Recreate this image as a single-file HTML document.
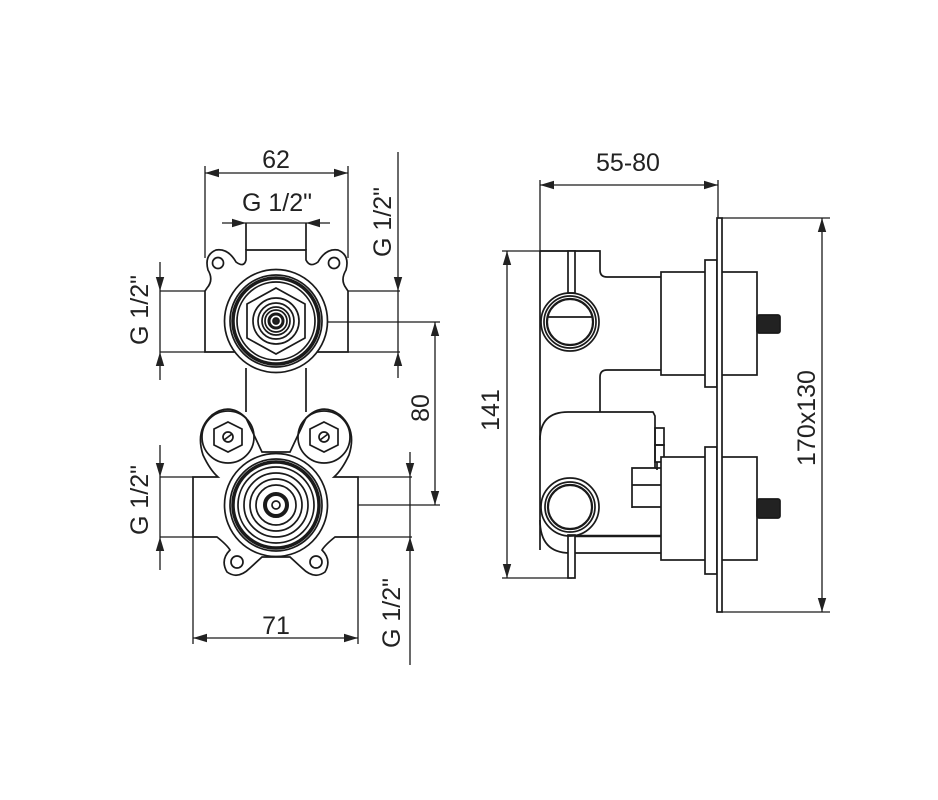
<!DOCTYPE html>
<html><head><meta charset="utf-8"><style>
html,body{margin:0;padding:0;background:#fff;}
svg{display:block;}
text{font-family:"Liberation Sans","DejaVu Sans",sans-serif;font-size:25px;fill:#222;}
</style></head><body>
<svg width="938" height="800" viewBox="0 0 938 800" xmlns="http://www.w3.org/2000/svg">
<defs>
<marker id="a" viewBox="0 0 10 10" refX="10" refY="5" markerWidth="14" markerHeight="14" markerUnits="userSpaceOnUse" orient="auto-start-reverse"><path d="M0,2 L10,5 L0,8 z" fill="#222"/></marker>
</defs>
<g fill="none" stroke="#1a1a1a" stroke-width="1.7">
<!-- ===== LEFT VIEW ===== -->
<line x1="205" y1="173" x2="348" y2="173" marker-start="url(#a)" marker-end="url(#a)" stroke-width="1.3"/>
<line x1="205" y1="166" x2="205" y2="258" stroke-width="1.3"/><line x1="348" y1="166" x2="348" y2="258" stroke-width="1.3"/>
<line x1="222" y1="223" x2="246" y2="223" marker-end="url(#a)" stroke-width="1.3"/>
<line x1="330" y1="223" x2="306" y2="223" marker-end="url(#a)" stroke-width="1.3"/>
<line x1="246" y1="223" x2="306" y2="223" stroke-width="1.3"/>
<line x1="246" y1="223" x2="246" y2="250"/><line x1="306" y1="223" x2="306" y2="250"/>
<path d="M246,250 L306,250 L306,260 Q310,268 318,262 Q326,248 338,250 Q350,255 346,270 Q340,280 346,288 L348,291 L348,352 L205,352 L205,291 L207,288 Q214,280 208,270 Q204,255 216,250 Q228,248 236,262 Q244,268 246,260 Z" fill="#fff"/>
<circle cx="218" cy="263" r="5.5"/><circle cx="334" cy="263" r="5.5"/>
<line x1="160" y1="291" x2="205" y2="291" stroke-width="1.3"/><line x1="160" y1="352" x2="205" y2="352" stroke-width="1.3"/>
<line x1="348" y1="291" x2="400" y2="291" stroke-width="1.3"/><line x1="348" y1="352" x2="400" y2="352" stroke-width="1.3"/>
<line x1="246" y1="368" x2="246" y2="412"/><line x1="306" y1="368" x2="306" y2="412"/>
<circle cx="276" cy="321" r="51.5" fill="#fff"/>
<circle cx="276" cy="321" r="46"/>
<circle cx="276" cy="321" r="43" stroke-width="3.5"/>
<circle cx="276" cy="321" r="39"/>
<polygon points="276,288 305,304 305,338 276,354 247,338 247,304"/>
<circle cx="276" cy="321" r="23"/><circle cx="276" cy="321" r="18"/>
<circle cx="276" cy="321" r="14"/><circle cx="276" cy="321" r="11"/>
<circle cx="276" cy="321" r="7" stroke-width="3"/>
<circle cx="276" cy="321" r="3" fill="#222"/>
<g stroke-width="1.3">
<line x1="160" y1="262" x2="160" y2="291" marker-end="url(#a)"/>
<line x1="160" y1="380" x2="160" y2="352" marker-end="url(#a)"/>
<line x1="160" y1="291" x2="160" y2="352"/>
<line x1="398" y1="152" x2="398" y2="291" marker-end="url(#a)"/>
<line x1="398" y1="378" x2="398" y2="352" marker-end="url(#a)"/>
<line x1="398" y1="291" x2="398" y2="352"/>
<line x1="328" y1="322" x2="440" y2="322"/><line x1="320" y1="505" x2="440" y2="505"/>
<line x1="435" y1="322" x2="435" y2="505" marker-start="url(#a)" marker-end="url(#a)"/>
</g>
<path d="M193,477 L218,477 Q210,470 203,455 Q195,430 212,415 Q230,402 246,418 L262,452 L290,452 L306,418 Q322,402 340,415 Q357,430 349,455 Q342,470 334,477 L358,477 L358,537 L335,537 Q325,545 322,550 Q332,560 325,572 Q314,580 302,568 L290,557 L262,557 L250,568 Q238,580 227,572 Q220,560 230,550 Q227,545 217,537 L193,537 Z" fill="#fff"/>
<circle cx="228" cy="437" r="26"/><circle cx="324" cy="437" r="26"/>
<polygon points="228,422 242,429 242,445 228,452 214,445 214,429"/>
<polygon points="324,422 338,429 338,445 324,452 310,445 310,429"/>
<circle cx="228" cy="437" r="5"/><line x1="224" y1="440" x2="232" y2="434"/>
<circle cx="324" cy="437" r="5"/><line x1="320" y1="440" x2="328" y2="434"/>
<circle cx="237" cy="562" r="6"/><circle cx="316" cy="562" r="6"/>
<circle cx="276" cy="505" r="51.5" fill="#fff"/>
<circle cx="276" cy="505" r="46"/>
<circle cx="276" cy="505" r="43" stroke-width="3.5"/>
<circle cx="276" cy="505" r="38"/>
<circle cx="276" cy="505" r="32"/><circle cx="276" cy="505" r="26"/>
<circle cx="276" cy="505" r="20"/>
<circle cx="276" cy="505" r="11" stroke-width="4"/>
<circle cx="276" cy="505" r="4"/>
<g stroke-width="1.3">
<line x1="160" y1="477" x2="193" y2="477"/><line x1="160" y1="537" x2="193" y2="537"/>
<line x1="358" y1="477" x2="412" y2="477"/><line x1="358" y1="537" x2="412" y2="537"/>
<line x1="160" y1="445" x2="160" y2="477" marker-end="url(#a)"/>
<line x1="160" y1="570" x2="160" y2="537" marker-end="url(#a)"/>
<line x1="160" y1="477" x2="160" y2="537"/>
<line x1="410" y1="452" x2="410" y2="477" marker-end="url(#a)"/>
<line x1="410" y1="665" x2="410" y2="537" marker-end="url(#a)"/>
<line x1="410" y1="477" x2="410" y2="537"/>
<line x1="193" y1="537" x2="193" y2="644"/><line x1="358" y1="537" x2="358" y2="644"/>
<line x1="193" y1="638" x2="358" y2="638" marker-start="url(#a)" marker-end="url(#a)"/>
<line x1="540" y1="185" x2="718" y2="185" marker-start="url(#a)" marker-end="url(#a)"/>
<line x1="540" y1="180" x2="540" y2="251"/><line x1="718" y1="180" x2="718" y2="218"/>
<line x1="502" y1="251" x2="600" y2="251"/><line x1="502" y1="578" x2="572" y2="578"/>
<line x1="507" y1="251" x2="507" y2="578" marker-start="url(#a)" marker-end="url(#a)"/>
</g>
<!-- ===== RIGHT VIEW ===== -->
<path d="M540,251 L600,251 L600,270 Q600,277 607,277 L661,277"/>
<path d="M661,370 L607,370 Q600,370 600,377 L600,412"/>
<line x1="540" y1="251" x2="540" y2="550"/>
<path d="M540,440 Q540,412 568,412 L653,412 L655,416 L655,468 L632,468 L632,508"/>
<line x1="632" y1="485" x2="661" y2="485"/><line x1="632" y1="507" x2="661" y2="507"/>
<rect x="655" y="428" width="9" height="17"/><rect x="655" y="445" width="9" height="17"/>
<line x1="657" y1="462" x2="657" y2="470"/><path d="M655,468 L661,468"/>
<path d="M540,520 Q540,553 570,553"/>
<line x1="570" y1="536" x2="661" y2="536" stroke-width="2.5"/>
<line x1="575" y1="553" x2="661" y2="553"/>
<rect x="568" y="251" width="7" height="42" fill="#fff"/>
<rect x="568" y="535" width="7" height="43" fill="#fff"/>
<circle cx="570" cy="322" r="29"/><circle cx="570" cy="322" r="26"/><circle cx="570" cy="322" r="23" stroke-width="2.2"/>
<line x1="547" y1="317" x2="593" y2="317"/>
<circle cx="570" cy="507" r="29"/><circle cx="570" cy="507" r="25"/><circle cx="570" cy="507" r="22" stroke-width="2.2"/>
<rect x="661" y="272" width="96" height="103" fill="#fff"/>
<rect x="705" y="260" width="12" height="127" fill="#fff"/>
<rect x="661" y="457" width="96" height="103" fill="#fff"/>
<rect x="705" y="447" width="12" height="127" fill="#fff"/>
<rect x="717" y="218" width="5" height="394" fill="#fff"/>
<rect x="757" y="315" width="23" height="18" rx="2" fill="#222"/>
<rect x="757" y="499" width="23" height="19" rx="2" fill="#222"/>
<g stroke-width="1.3">
<line x1="722" y1="218" x2="830" y2="218"/><line x1="722" y1="612" x2="830" y2="612"/>
<line x1="822" y1="218" x2="822" y2="612" marker-start="url(#a)" marker-end="url(#a)"/>
</g>
</g>
<g>
<text x="276" y="168" text-anchor="middle">62</text>
<text x="277" y="211" text-anchor="middle">G 1/2"</text>
<text x="276" y="634" text-anchor="middle">71</text>
<text x="628" y="171" text-anchor="middle">55-80</text>
<text transform="translate(391,222) rotate(-90)" text-anchor="middle">G 1/2"</text>
<text transform="translate(148,310) rotate(-90)" text-anchor="middle">G 1/2"</text>
<text transform="translate(148,500) rotate(-90)" text-anchor="middle">G 1/2"</text>
<text transform="translate(400,613) rotate(-90)" text-anchor="middle">G 1/2"</text>
<text transform="translate(429,408) rotate(-90)" text-anchor="middle">80</text>
<text transform="translate(499,410) rotate(-90)" text-anchor="middle">141</text>
<text transform="translate(815,418) rotate(-90)" text-anchor="middle">170x130</text>
</g>
</svg>
</body></html>
